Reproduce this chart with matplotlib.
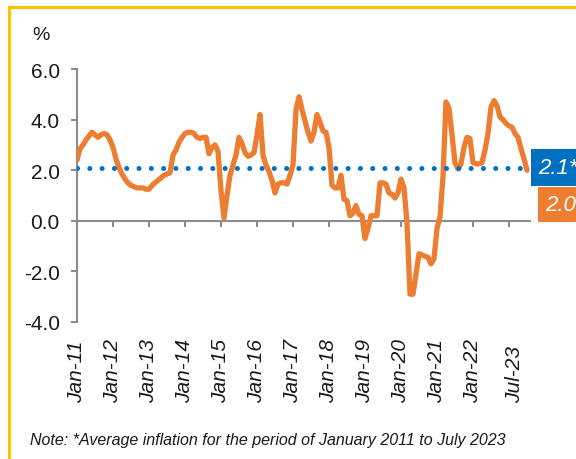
import matplotlib.pyplot as plt
import matplotlib.transforms as mtransforms
from matplotlib.lines import Line2D

plt.rcParams["font.family"] = ["Liberation Sans", "DejaVu Sans"]

# Monthly headline inflation, % YoY, Jan-2011 .. Jul-2023
inflation = [
    # 2011
    2.4, 2.85, 3.0, 3.2, 3.35, 3.5, 3.4, 3.3, 3.4, 3.45, 3.4, 3.2,
    # 2012
    2.9, 2.45, 2.1, 1.85, 1.65, 1.5, 1.4, 1.35, 1.3, 1.3, 1.3, 1.25,
    # 2013
    1.25, 1.4, 1.5, 1.6, 1.7, 1.8, 1.85, 1.9, 2.6, 2.8, 3.1, 3.3,
    # 2014
    3.45, 3.5, 3.5, 3.45, 3.3, 3.25, 3.3, 3.3, 2.65, 2.9, 3.0, 2.75,
    # 2015
    1.2, 0.1, 1.0, 1.8, 2.2, 2.6, 3.3, 3.05, 2.7, 2.55, 2.6, 2.7,
    # 2016
    3.4, 4.2, 2.6, 2.2, 1.95, 1.6, 1.1, 1.45, 1.5, 1.5, 1.45, 1.8,
    # 2017
    2.2, 4.4, 4.9, 4.4, 3.95, 3.5, 3.15, 3.5, 4.2, 3.9, 3.55, 3.5,
    # 2018
    2.9, 1.4, 1.3, 1.3, 1.8, 0.85, 0.8, 0.2, 0.3, 0.6, 0.25, 0.2,
    # 2019
    -0.7, -0.3, 0.2, 0.2, 0.2, 1.5, 1.5, 1.45, 1.1, 1.05, 0.9, 1.1,
    # 2020
    1.65, 1.3, -0.1, -2.9, -2.9, -2.1, -1.3, -1.35, -1.4, -1.45, -1.7, -1.5,
    # 2021
    -0.3, 0.15, 1.75, 4.7, 4.45, 3.4, 2.3, 2.05, 2.25, 2.9, 3.3, 3.25,
    # 2022
    2.3, 2.25, 2.25, 2.3, 2.8, 3.45, 4.5, 4.75, 4.55, 4.1, 4.0, 3.85,
    # 2023
    3.75, 3.7, 3.45, 3.3, 2.85, 2.45, 2.0,
]
avg_inflation = 2.1

year_ticks = list(range(0, 145, 12))  # every January, 2011..2023
tick_labels = ["Jan-11", "Jan-12", "Jan-13", "Jan-14", "Jan-15", "Jan-16",
               "Jan-17", "Jan-18", "Jan-19", "Jan-20", "Jan-21", "Jan-22",
               "Jul-23"]
label_pos = list(range(0, 133, 12)) + [146]

ORANGE = "#ED7D31"
BLUE = "#0070C0"
GREY = "#8C8C8C"

months = list(range(len(inflation)))

fig = plt.figure(figsize=(5.76, 4.6), dpi=100)
ax = fig.add_axes([77 / 576, (460 - 323) / 460, (530 - 77) / 576, (323 - 70) / 460])

ax.plot(months, inflation, color=ORANGE, lw=3.8, solid_joinstyle="round",
        solid_capstyle="round", zorder=3)
ax.plot([months[0], months[-1]], [avg_inflation, avg_inflation], color=BLUE,
        lw=3.6, dashes=(0.01, 2.45), dash_capstyle="round", zorder=4)

ax.set_xlim(0, 151)
ax.set_ylim(-4, 6)

# axes styling
for side in ["top", "right"]:
    ax.spines[side].set_visible(False)
ax.spines["bottom"].set_position(("data", 0))
for side in ["left", "bottom"]:
    ax.spines[side].set_color(GREY)
    ax.spines[side].set_linewidth(1.5)

ax.set_yticks([-4, -2, 0, 2, 4, 6])
ax.set_yticklabels([f"{v:.1f}" for v in [-4, -2, 0, 2, 4, 6]])
ax.tick_params(axis="y", direction="out", length=4.5, width=1.5, color=GREY,
               pad=8, labelsize=15, labelcolor="#1a1a1a")
ax.set_xticks(year_ticks)
ax.set_xticklabels([])
ax.tick_params(axis="x", direction="out", length=4.5, width=1.5, color=GREY)

# rotated date labels under the plot
trans = mtransforms.blended_transform_factory(ax.transData, fig.transFigure)
for pos, lab in zip(label_pos, tick_labels):
    ax.text(pos, (460 - 403) / 460, lab, transform=trans, rotation=90,
            ha="center", va="bottom", fontsize=15, style="italic",
            color="#1a1a1a", clip_on=False)

# value boxes at the right edge (cut by the frame as in the source)
ax.text(153.8, avg_inflation, f"{avg_inflation:.1f}*", color="white",
        fontsize=16, style="italic", ha="left", va="center", clip_on=False,
        bbox=dict(boxstyle="square,pad=0.35", facecolor=BLUE, edgecolor="none"))
ax.text(156.0, inflation[-1] - 1.35, f"{inflation[-1]:.1f}", color="white",
        fontsize=16, style="italic", ha="left", va="center", clip_on=False,
        bbox=dict(boxstyle="square,pad=0.3", facecolor=ORANGE, edgecolor="none"))

fig.text(32 / 576, 1 - 27 / 460, "%", fontsize=14, color="#1a1a1a",
         ha="left", va="top")
fig.text(30 / 576, 1 - 441 / 460,
         "Note: *Average inflation for the period of January 2011 to July 2023",
         fontsize=11.5, style="italic", color="#1a1a1a", ha="left", va="center")

# yellow frame (top and left edges visible)
fig.add_artist(Line2D([9 / 576, 9 / 576], [0, 1 - 8 / 460], color="#FFC000",
                      lw=2.2, transform=fig.transFigure))
fig.add_artist(Line2D([9 / 576, 1], [1 - 8 / 460, 1 - 8 / 460], color="#FFC000",
                      lw=2.2, transform=fig.transFigure))

fig.savefig("out.png", dpi=100)
plt.close(fig)
